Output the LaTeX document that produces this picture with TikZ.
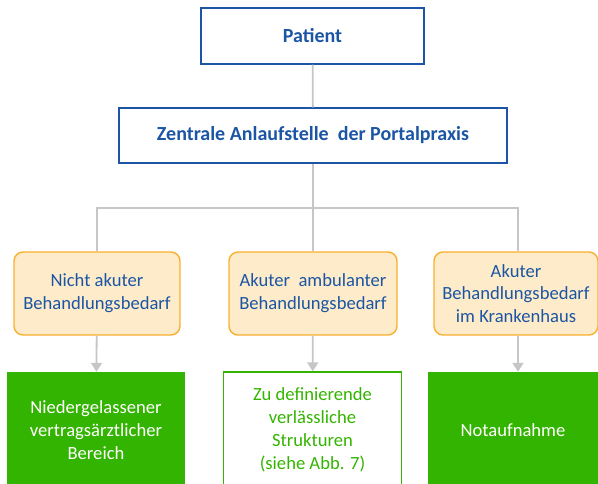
\documentclass[tikz,border=0pt]{standalone}
\usepackage{fontspec}
\setmainfont{Carlito}
\usetikzlibrary{arrows.meta,positioning}
\definecolor{portalblue}{HTML}{1B55A3}
\definecolor{needfill}{HTML}{FEEBC9}
\definecolor{needline}{HTML}{F8B02E}
\definecolor{caregreen}{HTML}{33B400}
\definecolor{linkgray}{HTML}{C6C6C6}
\begin{document}
\begin{tikzpicture}[x=1pt,y=-1pt]
\tikzset{every node/.style={align=center,font=\fontsize{18.6}{22.8}\selectfont}}
\tikzset{entry/.style={draw=portalblue,line width=1.4pt,text=portalblue,font=\fontsize{20}{24}\selectfont\bfseries}}
\tikzset{need/.style={draw=needline,fill=needfill,line width=1.4pt,rounded corners=9pt,text=portalblue,minimum height=83pt}}
\tikzset{care/.style={fill=caregreen,text=white,minimum height=116pt}}
\tikzset{careopen/.style={draw=caregreen,line width=1.2pt,text=caregreen,minimum height=116pt}}
\tikzset{link/.style={draw=linkgray,line width=1.8pt}}
\tikzset{flow/.style={link,-{Triangle[width=11pt,length=9pt]}}}
\useasboundingbox (0,0) rectangle (598,484);
\node[entry,minimum width=223pt,minimum height=56pt] (patient) at (312.5,36) {Patient};
\node[entry,minimum width=388pt,minimum height=55pt] (portal) at (313,135.5)
{Zentrale Anlaufstelle\ \ der Portalpraxis};
\node[need,minimum width=166pt] (nonacute) at (97,293.5) {Nicht akuter\\Behandlungsbedarf};
\node[need,minimum width=168pt] (ambulant) at (313,293.5) {Akuter\ \ ambulanter\\Behandlungsbedarf};
\node[need,minimum width=164pt] (hospital) at (516,293.5) {Akuter\\Behandlungsbedarf\\im Krankenhaus};
\node[care,minimum width=178pt] (practice) at (96,430) {Niedergelassener\\vertragsärztlicher\\Bereich};
\node[careopen,minimum width=178pt] (structures) at (312.5,430)
{Zu definierende\\verlässliche\\Strukturen\\(siehe Abb. 7)};
\node[care,minimum width=170pt] (emergency) at (513,430) {Notaufnahme};
\coordinate (split) at (313,208);
\draw[link] (patient) -- (portal);
\draw[link] (portal) -- (split);
\draw[link] (split) -| (nonacute.north);
\draw[link] (split) -- (ambulant.north);
\draw[link] (split) -| (hospital.north -| 518,0);
\draw[flow] (nonacute) -- (practice);
\draw[flow] (ambulant) -- (structures);
\draw[flow] (hospital.south -| 518,0) -- (emergency.north -| 518,0);
\end{tikzpicture}
\end{document}
